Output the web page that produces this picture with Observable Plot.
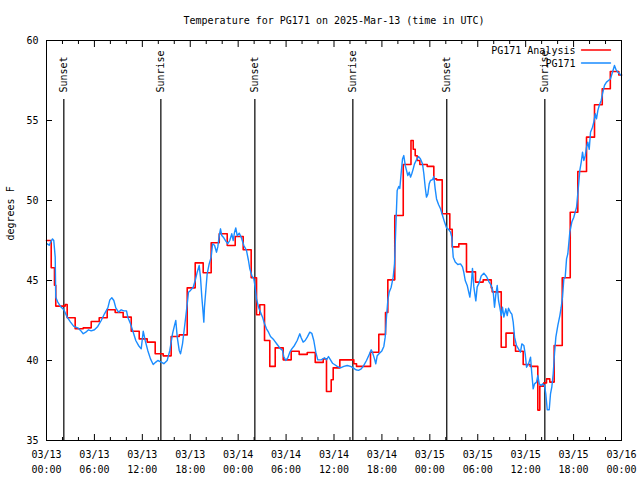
<!DOCTYPE html>
<html>
<head>
<meta charset="utf-8">
<script src="https://cdn.jsdelivr.net/npm/d3@7"></script>
<script src="https://cdn.jsdelivr.net/npm/@observablehq/plot@0.6"></script>
<style>
  html, body { margin: 0; padding: 0; background: #fff; }
</style>
</head>
<body>
<div id="chart"></div>
<script>
// ---- data (hours since 2025-03-13 00:00 UTC) ----
const titleText = "Temperature for PG171 on 2025-Mar-13 (time in UTC)";
const yLabelText = "degrees F";
const seriesNames = ["PG171 Analysis", "PG171"];
const seriesColors = ["#ff0000", "#1a8cff"];

const analysisHours = [0, 0.59, 1.00, 1.16, 2.34, 2.59, 3.59, 4.60, 5.60, 6.60, 7.60, 8.60, 9.60, 10.61, 11.61, 12.61, 13.61, 14.61, 15.61, 16.62, 17.62, 18.62, 19.62, 20.62, 21.63, 22.63, 23.63, 24.63, 25.63, 26.30, 26.71, 27.30, 27.96, 28.64, 29.64, 30.64, 31.64, 32.65, 33.65, 34.65, 35.06, 35.65, 35.90, 36.73, 38.48, 38.82, 40.57, 41.61, 42.45, 42.74, 43.61, 44.67, 45.64, 45.92, 46.17, 46.42, 46.75, 47.67, 48.50, 48.84, 49.55, 50.50, 50.80, 51.63, 52.59, 53.72, 54.68, 55.69, 55.81, 56.94, 57.54, 58.52, 58.73, 59.69, 60.57, 61.52, 61.77, 62.27, 62.61, 63.02, 63.57, 64.58, 65.58, 66.53, 67.62, 68.62, 69.59, 70.60, 71.66, 72];
const analysisTemps = [47.5, 45.8, 44.7, 43.4, 43.5, 42.67, 41.98, 42.04, 42.44, 42.67, 43.17, 43.0, 42.71, 41.83, 41.35, 41.15, 40.42, 40.29, 41.5, 41.6, 44.54, 46.1, 45.48, 47.36, 47.92, 47.19, 47.75, 46.92, 45.17, 42.86, 43.48, 41.25, 39.63, 40.79, 40.04, 40.58, 40.38, 40.5, 39.88, 40.1, 38.06, 38.8, 39.54, 40.04, 39.8, 39.63, 40.52, 41.63, 43.0, 45.04, 49.06, 52.25, 53.75, 53.2, 52.8, 52.5, 52.25, 52.13, 51.35, 51.29, 49.17, 48.2, 47.1, 47.29, 45.54, 44.9, 45.04, 44.54, 44.29, 40.83, 41.71, 40.94, 40.58, 39.75, 39.63, 36.9, 38.4, 38.6, 38.85, 38.65, 40.94, 45.17, 49.27, 51.81, 53.96, 55.98, 56.98, 58.06, 57.85, 57.85];

const obsHours = [0.09, 0.34, 0.59, 0.75, 0.91, 1.09, 1.16, 1.41, 1.75, 2.17, 2.59, 3.01, 3.42, 3.92, 4.26, 4.60, 4.92, 5.26, 5.60, 6.01, 6.42, 6.85, 7.26, 7.68, 7.93, 8.18, 8.43, 8.68, 9.02, 9.35, 9.68, 10.02, 10.18, 10.52, 10.86, 11.18, 11.52, 11.86, 12.11, 12.36, 12.68, 13.02, 13.36, 13.69, 13.94, 14.36, 14.69, 15.11, 15.44, 15.78, 16.03, 16.19, 16.37, 16.62, 16.78, 17.03, 17.28, 17.53, 17.78, 18.03, 18.37, 18.62, 18.87, 19.12, 19.28, 19.45, 19.62, 19.70, 19.78, 19.95, 20.12, 20.37, 20.62, 20.79, 21.04, 21.29, 21.45, 21.63, 21.79, 21.95, 22.20, 22.45, 22.70, 22.95, 23.20, 23.38, 23.54, 23.70, 23.88, 24.13, 24.38, 24.71, 25.04, 25.29, 25.46, 25.71, 25.96, 26.13, 26.30, 26.55, 26.80, 27.05, 27.30, 27.55, 27.80, 28.05, 28.46, 28.89, 29.30, 29.55, 29.71, 29.97, 30.22, 30.47, 30.72, 31.05, 31.39, 31.72, 31.89, 32.14, 32.39, 32.65, 32.97, 33.22, 33.47, 33.72, 33.97, 34.40, 34.81, 35.06, 35.31, 35.56, 35.81, 36.06, 36.40, 36.81, 37.23, 37.65, 38.07, 38.41, 38.73, 39.07, 39.41, 39.73, 40.07, 40.41, 40.66, 40.82, 41.07, 41.23, 41.41, 41.66, 41.99, 42.24, 42.41, 42.57, 42.74, 42.91, 43.16, 43.41, 43.58, 43.74, 43.91, 44.11, 44.24, 44.42, 44.58, 44.74, 44.92, 45.08, 45.24, 45.42, 45.58, 45.74, 45.92, 46.08, 46.33, 46.58, 46.83, 47.08, 47.25, 47.42, 47.58, 47.75, 47.92, 48.08, 48.34, 48.50, 48.67, 48.84, 49.09, 49.34, 49.59, 49.84, 50.09, 50.34, 50.59, 50.75, 50.93, 51.18, 51.50, 51.84, 52.09, 52.25, 52.43, 52.68, 53.01, 53.18, 53.34, 53.51, 53.76, 53.93, 54.18, 54.43, 54.76, 55.10, 55.43, 55.69, 55.94, 56.10, 56.26, 56.44, 56.60, 56.76, 56.94, 57.10, 57.27, 57.52, 57.69, 57.85, 58.10, 58.27, 58.44, 58.61, 58.85, 59.10, 59.35, 59.52, 59.77, 59.94, 60.11, 60.36, 60.61, 60.77, 60.94, 61.11, 61.36, 61.52, 61.70, 61.95, 62.11, 62.36, 62.52, 62.70, 62.95, 63.11, 63.27, 63.45, 63.61, 63.78, 64.03, 64.28, 64.45, 64.61, 64.78, 64.95, 65.12, 65.28, 65.53, 65.78, 66.03, 66.37, 66.62, 66.78, 66.96, 67.12, 67.28, 67.46, 67.62, 67.78, 67.96, 68.12, 68.37, 68.53, 68.71, 68.87, 69.04, 69.21, 69.46, 69.62, 69.87, 70.12, 70.37, 70.62, 70.87, 71.12, 71.29, 71.54, 71.79, 72.0];
const obsTemps = [47.29, 47.2, 47.46, 47.6, 47.5, 46.46, 43.96, 43.65, 43.38, 43.17, 42.71, 42.4, 42.13, 42.04, 41.88, 41.67, 41.77, 41.92, 41.85, 41.92, 42.13, 42.5, 42.92, 43.29, 43.79, 43.92, 43.75, 43.29, 43.02, 43.17, 43.1, 43.1, 42.71, 42.29, 41.77, 41.25, 40.94, 40.73, 41.83, 41.25, 40.63, 40.1, 39.75, 39.9, 40.0, 39.9, 39.8, 40.0, 40.63, 41.67, 42.19, 42.5, 41.46, 40.63, 40.42, 41.04, 42.08, 43.13, 44.27, 44.38, 44.58, 45.0, 45.52, 45.94, 45.21, 43.96, 42.92, 42.4, 43.33, 44.38, 45.42, 46.04, 46.46, 47.29, 47.2, 46.77, 47.1, 47.81, 48.23, 47.81, 47.67, 47.46, 47.3, 47.5, 47.92, 47.5, 48.0, 48.29, 47.8, 47.96, 47.7, 47.19, 46.88, 46.25, 45.73, 45.31, 45.1, 44.58, 43.85, 43.33, 43.02, 42.71, 42.29, 41.98, 41.77, 41.5, 41.29, 41.0, 40.73, 40.63, 40.25, 40.0, 40.17, 40.52, 40.73, 40.94, 41.25, 41.67, 41.42, 41.15, 41.25, 41.46, 41.77, 41.7, 41.25, 40.52, 40.04, 40.04, 40.17, 40.04, 40.25, 40.04, 39.83, 39.75, 39.63, 39.54, 39.63, 39.69, 39.63, 39.54, 39.42, 39.38, 39.48, 39.69, 40.0, 40.38, 40.67, 40.5, 40.1, 39.79, 40.3, 40.44, 40.6, 40.88, 41.46, 42.71, 43.75, 44.27, 44.58, 45.21, 46.04, 48.33, 50.63, 50.88, 50.75, 51.77, 52.6, 52.81, 52.19, 51.88, 51.56, 51.77, 51.46, 51.67, 51.98, 52.29, 52.54, 52.75, 52.6, 52.3, 51.67, 50.83, 50.21, 50.4, 51.04, 51.25, 51.3, 51.5, 50.73, 50.1, 49.75, 49.48, 49.06, 48.65, 48.29, 48.2, 48.02, 47.71, 46.46, 46.15, 46.0, 46.04, 45.85, 45.52, 45.0, 44.69, 43.96, 44.7, 45.76, 44.6, 43.73, 44.6, 44.85, 45.28, 45.46, 45.25, 44.9, 44.7, 44.27, 43.33, 44.1, 44.69, 43.75, 43.33, 42.81, 43.33, 42.71, 43.23, 42.81, 43.27, 43.0, 42.9, 42.4, 41.46, 40.94, 40.73, 40.52, 41.04, 40.94, 40.42, 39.58, 39.79, 40.21, 39.17, 38.23, 38.54, 38.65, 39.06, 38.54, 38.44, 38.54, 38.44, 37.92, 36.92, 36.92, 37.92, 38.33, 39.17, 40.42, 41.46, 42.19, 42.81, 43.33, 43.96, 45.1, 45.2, 46.35, 46.67, 48.02, 48.65, 48.96, 49.58, 50.94, 51.88, 52.4, 53.02, 52.5, 52.8, 53.33, 53.65, 53.2, 54.27, 54.58, 54.9, 55.42, 55.1, 55.63, 55.94, 56.25, 56.67, 57.19, 57.4, 57.5, 57.6, 58.02, 58.44, 58.2, 58.02, 57.9, 57.8];

const sunHours = [2.17, 14.32, 26.09, 38.36, 50.12, 62.40];
const sunLabels = ["Sunset", "Sunrise", "Sunset", "Sunrise", "Sunset", "Sunrise"];

const xMajorTicks = [0, 6, 12, 18, 24, 30, 36, 42, 48, 54, 60, 66, 72];
const xMinorTicks = [2, 4, 8, 10, 14, 16, 20, 22, 26, 28, 32, 34, 38, 40, 44, 46, 50, 52, 56, 58, 62, 64, 68, 70];
const xTickDates = ["03/13", "03/13", "03/13", "03/13", "03/14", "03/14", "03/14", "03/14", "03/15", "03/15", "03/15", "03/15", "03/16"];
const xTickTimes = ["00:00", "06:00", "12:00", "18:00", "00:00", "06:00", "12:00", "18:00", "00:00", "06:00", "12:00", "18:00", "00:00"];
const yTicks = [35, 40, 45, 50, 55, 60];

// ---- build tables ----
const analysis = analysisHours.map((h, i) => ({h, t: analysisTemps[i]}));
const obs = obsHours.map((h, i) => ({h, t: obsTemps[i]}));
const xTicks = xMajorTicks.map((h, i) => ({h, date: xTickDates[i], time: xTickTimes[i]}));
const suns = sunHours.map((h, i) => ({h, label: sunLabels[i]}));

const lineShape = { draw(context, l) { context.moveTo(0, 0); context.lineTo(0, -l); } };
const FONT = "'DejaVu Sans Mono', 'Liberation Mono', monospace";

function legendRow(i, dyText, dyLine) {
  return [
    Plot.text([seriesNames[i]], {frameAnchor: "top-right", dx: -46, dy: dyText, textAnchor: "end", lineAnchor: "middle", fill: "#000"}),
    Plot.vector([seriesNames[i]], {frameAnchor: "top-right", dx: -11, dy: dyLine, length: 29, rotate: -90, anchor: "start", shape: lineShape, stroke: seriesColors[i], strokeWidth: 1.4})
  ];
}

const chart = Plot.plot({
  width: 640,
  height: 480,
  marginTop: 40,
  marginRight: 19,
  marginBottom: 40,
  marginLeft: 46,
  style: {fontFamily: FONT, fontSize: "10px", background: "#fff", color: "#000"},
  x: {domain: [0, 72]},
  y: {domain: [35, 60]},
  marks: [
    // ticks (inward)
    Plot.axisX({anchor: "bottom", ticks: xMajorTicks, tickSize: -6, tickFormat: () => "", label: null}),
    Plot.axisX({anchor: "bottom", ticks: xMinorTicks, tickSize: -3, tickFormat: () => "", label: null}),
    Plot.axisX({anchor: "top", ticks: xMajorTicks, tickSize: -6, tickFormat: () => "", label: null}),
    Plot.axisX({anchor: "top", ticks: xMinorTicks, tickSize: -3, tickFormat: () => "", label: null}),
    Plot.axisY({anchor: "left", ticks: yTicks, tickSize: -6, tickFormat: () => "", label: null}),
    Plot.axisY({anchor: "right", ticks: yTicks, tickSize: -6, tickFormat: () => "", label: null}),
    // tick labels
    Plot.text(xTicks, {x: "h", text: "date", frameAnchor: "bottom", dy: 14.5, lineAnchor: "middle", fill: "#000"}),
    Plot.text(xTicks, {x: "h", text: "time", frameAnchor: "bottom", dy: 29.5, lineAnchor: "middle", fill: "#000"}),
    Plot.text(yTicks, {y: d => d, text: d => String(d), frameAnchor: "left", dx: -8, textAnchor: "end", lineAnchor: "middle", fill: "#000"}),
    // sunrise / sunset
    Plot.ruleX(suns, {x: "h", insetTop: 59, stroke: "#000", strokeWidth: 1.2}),
    Plot.text(suns, {x: "h", text: "label", frameAnchor: "top", dy: 52, rotate: -90, textAnchor: "start", lineAnchor: "middle", fill: "#000"}),
    // data
    Plot.line(analysis, {x: "h", y: "t", stroke: seriesColors[0], strokeWidth: 1.6, curve: "step-after"}),
    Plot.line(obs, {x: "h", y: "t", stroke: seriesColors[1], strokeWidth: 1.4}),
    // legend
    ...legendRow(0, 10.5, 9.5),
    ...legendRow(1, 23, 22.5),
    // frame, title, y label
    Plot.frame({stroke: "#000", strokeWidth: 1}),
    Plot.text([titleText], {frameAnchor: "top", dy: -20, lineAnchor: "middle", fill: "#000"}),
    Plot.text([yLabelText], {frameAnchor: "left", dx: -36, rotate: -90, lineAnchor: "middle", fill: "#000"})
  ]
});

document.getElementById("chart").append(chart);
</script>
</body>
</html>
